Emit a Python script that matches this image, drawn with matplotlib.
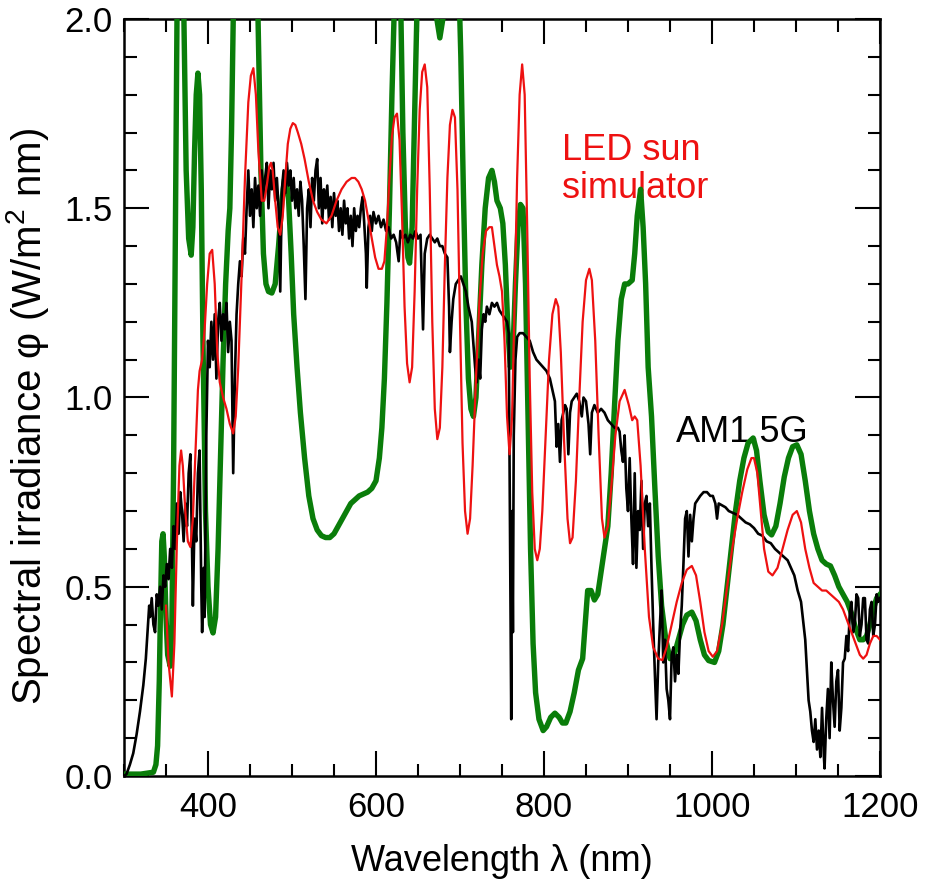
import matplotlib
matplotlib.use("Agg")
import matplotlib.pyplot as plt
from matplotlib.ticker import MultipleLocator, FormatStrFormatter

plt.rcParams["font.family"] = ["Liberation Sans", "DejaVu Sans"]
plt.rcParams["mathtext.fontset"] = "custom"
plt.rcParams["mathtext.rm"] = "Liberation Sans"
plt.rcParams["mathtext.it"] = "Liberation Sans:italic"

# AM1.5G reference solar spectrum (W/m^2 nm)
am15g_wl = [300, 303, 307, 311, 315, 319, 323, 326, 328, 330, 331, 333, 335, 337, 339, 341, 343, 345,
            347, 349, 351, 353, 355, 357, 359, 361, 363, 365, 367, 369, 371, 373, 375, 377, 379, 381,
            382, 384, 386, 388, 390, 392, 393, 395, 396, 398, 400, 402, 404, 406, 408, 410, 412, 414,
            416, 418, 420, 422, 424, 426, 428, 430, 432, 434, 436, 438, 440, 442, 444, 446, 448, 450,
            452, 454, 456, 458, 460, 462, 464, 466, 468, 470, 472, 474, 476, 478, 480, 482, 484, 486,
            488, 490, 492, 494, 496, 498, 500, 502, 504, 506, 508, 510, 512, 514, 516, 518, 520, 522,
            524, 526, 528, 530, 532, 534, 536, 538, 540, 542, 544, 546, 548, 550, 552, 554, 556, 558,
            560, 562, 564, 566, 568, 570, 572, 574, 576, 578, 580, 582, 584, 586, 588, 589, 591, 593,
            595, 597, 600, 603, 606, 609, 612, 615, 618, 621, 624, 627, 629, 632, 635, 638, 641, 644,
            647, 650, 653, 656, 658, 661, 664, 667, 670, 673, 676, 679, 682, 685, 687, 688, 690, 692,
            695, 698, 701, 704, 707, 710, 712, 714, 716, 718, 720, 722, 724, 726, 728, 730, 732, 735,
            738, 741, 744, 747, 750, 753, 756, 758, 760, 761, 762, 763, 764, 766, 768, 771, 775, 779,
            783, 787, 791, 795, 799, 803, 807, 810, 813, 815, 817, 819, 821, 823, 825, 827, 829, 831,
            833, 836, 839, 842, 845, 847, 850, 853, 855, 857, 860, 864, 868, 872, 876, 880, 884, 888,
            890, 892, 894, 896, 898, 900, 902, 904, 906, 908, 910, 912, 914, 916, 918, 920, 922, 924,
            926, 928, 930, 932, 934, 936, 938, 940, 942, 944, 946, 948, 950, 952, 954, 956, 958, 960,
            962, 964, 966, 968, 970, 972, 974, 976, 978, 980, 983, 986, 990, 994, 998, 1001, 1004,
            1006, 1008, 1012, 1016, 1020, 1025, 1030, 1035, 1040, 1045, 1050, 1055, 1060, 1065, 1070,
            1075, 1080, 1085, 1090, 1094, 1098, 1102, 1106, 1109, 1111, 1113, 1115, 1117, 1119, 1121,
            1123, 1125, 1127, 1129, 1131, 1133, 1134, 1136, 1138, 1140, 1142, 1144, 1146, 1148, 1150,
            1152, 1154, 1156, 1158, 1160, 1162, 1164, 1166, 1168, 1170, 1172, 1174, 1176, 1178, 1180,
            1182, 1184, 1186, 1188, 1190, 1192, 1194, 1196, 1198, 1200]
am15g_irr = [0.00, 0.005, 0.03, 0.06, 0.11, 0.17, 0.24, 0.31, 0.38, 0.45, 0.42, 0.47, 0.40, 0.38, 0.48,
             0.45, 0.50, 0.44, 0.53, 0.50, 0.56, 0.52, 0.60, 0.55, 0.66, 0.60, 0.72, 0.64, 0.75, 0.70,
             0.62, 0.72, 0.66, 0.80, 0.85, 0.60, 0.45, 0.68, 0.62, 0.80, 0.86, 0.50, 0.38, 0.55, 0.42,
             0.90, 1.15, 1.08, 1.20, 1.10, 1.22, 1.05, 1.20, 1.25, 1.15, 1.22, 1.18, 1.25, 1.12, 1.20,
             1.15, 0.80, 1.05, 1.22, 1.30, 1.36, 1.32, 1.42, 1.38, 1.50, 1.60, 1.48, 1.55, 1.45, 1.58,
             1.50, 1.56, 1.48, 1.60, 1.52, 1.58, 1.62, 1.50, 1.60, 1.55, 1.62, 1.52, 1.58, 1.50, 1.28,
             1.55, 1.60, 1.54, 1.62, 1.56, 1.60, 1.52, 1.58, 1.50, 1.55, 1.48, 1.57, 1.52, 1.40, 1.26,
             1.50, 1.55, 1.45, 1.58, 1.52, 1.60, 1.63, 1.50, 1.58, 1.46, 1.55, 1.50, 1.56, 1.47, 1.53,
             1.45, 1.54, 1.48, 1.52, 1.44, 1.50, 1.43, 1.52, 1.46, 1.50, 1.42, 1.48, 1.40, 1.50, 1.44,
             1.48, 1.45, 1.50, 1.53, 1.46, 1.38, 1.29, 1.45, 1.48, 1.44, 1.49, 1.46, 1.48, 1.45, 1.47,
             1.44, 1.45, 1.42, 1.43, 1.41, 1.36, 1.44, 1.42, 1.43, 1.41, 1.43, 1.42, 1.44, 1.42, 1.43,
             1.18, 1.38, 1.42, 1.43, 1.42, 1.41, 1.42, 1.40, 1.40, 1.38, 1.37, 1.24, 1.12, 1.20, 1.26,
             1.30, 1.31, 1.32, 1.30, 1.28, 1.24, 1.22, 1.20, 1.14, 1.08, 1.04, 1.10, 1.05, 1.18, 1.22,
             1.20, 1.24, 1.22, 1.25, 1.24, 1.25, 1.23, 1.22, 1.21, 1.20, 1.17, 0.50, 0.15, 0.70, 0.38,
             0.90, 1.10, 1.16, 1.17, 1.17, 1.16, 1.15, 1.12, 1.10, 1.09, 1.08, 1.07, 1.05, 1.02, 0.99,
             0.87, 0.93, 0.83, 0.94, 0.96, 0.98, 0.97, 0.85, 0.96, 0.99, 1.00, 1.01, 0.99, 0.95, 1.00,
             0.99, 0.93, 0.85, 0.96, 0.98, 0.96, 0.97, 0.96, 0.94, 0.93, 0.92, 0.92, 0.91, 0.86, 0.83,
             0.90, 0.76, 0.70, 0.84, 0.68, 0.56, 0.80, 0.55, 0.70, 0.65, 0.78, 0.60, 0.72, 0.74, 0.66,
             0.72, 0.55, 0.40, 0.27, 0.15, 0.30, 0.40, 0.49, 0.30, 0.36, 0.23, 0.20, 0.15, 0.32, 0.34,
             0.25, 0.32, 0.27, 0.38, 0.45, 0.56, 0.68, 0.70, 0.58, 0.69, 0.62, 0.68, 0.72, 0.73, 0.74,
             0.75, 0.75, 0.74, 0.74, 0.72, 0.68, 0.72, 0.715, 0.71, 0.70, 0.695, 0.69, 0.68, 0.67,
             0.665, 0.655, 0.64, 0.635, 0.62, 0.615, 0.60, 0.59, 0.58, 0.57, 0.55, 0.53, 0.49, 0.46,
             0.40, 0.36, 0.28, 0.20, 0.17, 0.12, 0.09, 0.15, 0.07, 0.12, 0.05, 0.18, 0.06, 0.02, 0.15,
             0.23, 0.10, 0.30, 0.20, 0.13, 0.25, 0.28, 0.12, 0.18, 0.30, 0.31, 0.37, 0.33, 0.43, 0.46,
             0.38, 0.40, 0.48, 0.47, 0.37, 0.40, 0.47, 0.47, 0.36, 0.35, 0.44, 0.46, 0.37, 0.40, 0.48,
             0.46, 0.47]

# LED sun simulator spectrum
led_wl = [350, 353, 357, 360, 363, 366, 368, 370, 373, 376, 379, 382, 385, 388, 390, 393, 396, 399,
          402, 405, 408, 411, 414, 418, 422, 426, 430, 433, 436, 440, 444, 448, 451, 454, 457, 460,
          464, 467, 470, 473, 475, 477, 480, 483, 486, 489, 492, 495, 498, 501, 504, 507, 511, 515,
          520, 525, 530, 535, 541, 547, 553, 559, 565, 571, 575, 579, 583, 587, 591, 595, 599, 603,
          607, 610, 613, 616, 619, 622, 625, 628, 631, 634, 637, 640, 643, 646, 649, 652, 655, 658,
          661, 664, 667, 670, 673, 676, 679, 682, 685, 688, 691, 694, 697, 700, 703, 706, 709, 712,
          715, 719, 723, 727, 731, 735, 738, 741, 744, 747, 750, 753, 756, 759, 762, 765, 768, 771,
          774, 777, 780, 783, 786, 789, 792, 795, 798, 802, 806, 810, 814, 817, 820, 824, 828, 831,
          834, 838, 842, 846, 850, 854, 857, 861, 865, 869, 872, 876, 880, 885, 890, 896, 901, 905,
          908, 911, 915, 920, 925, 930, 936, 941, 946, 952, 958, 964, 970, 976, 981, 986, 991, 996,
          1001, 1006, 1012, 1018, 1024, 1030, 1036, 1042, 1047, 1050, 1054, 1058, 1062, 1067, 1072,
          1078, 1084, 1090, 1096, 1101, 1106, 1111, 1116, 1121, 1126, 1131, 1136, 1141, 1146, 1151,
          1156, 1161, 1166, 1171, 1176, 1180, 1184, 1188, 1192, 1196, 1200]
led_irr = [0.45, 0.30, 0.21, 0.35, 0.62, 0.82, 0.86, 0.82, 0.70, 0.62, 0.605, 0.68, 0.85, 1.02, 1.07,
           1.10, 1.18, 1.30, 1.38, 1.39, 1.30, 1.12, 1.04, 1.00, 0.97, 0.93, 0.905, 0.95, 1.08, 1.32,
           1.58, 1.78, 1.85, 1.87, 1.80, 1.65, 1.52, 1.52, 1.56, 1.61, 1.62, 1.60, 1.52, 1.45, 1.43,
           1.48, 1.58, 1.67, 1.71, 1.725, 1.72, 1.70, 1.67, 1.63, 1.57, 1.52, 1.49, 1.47, 1.46, 1.48,
           1.52, 1.55, 1.57, 1.58, 1.58, 1.57, 1.55, 1.52, 1.47, 1.42, 1.37, 1.34, 1.34, 1.36, 1.45,
           1.58, 1.69, 1.74, 1.75, 1.68, 1.48, 1.24, 1.09, 1.04, 1.08, 1.28, 1.55, 1.76, 1.86, 1.88,
           1.82, 1.55, 1.20, 0.97, 0.89, 0.92, 1.08, 1.35, 1.58, 1.72, 1.76, 1.74, 1.55, 1.20, 0.88,
           0.70, 0.64, 0.68, 0.82, 1.05, 1.25, 1.38, 1.44, 1.45, 1.45, 1.40, 1.35, 1.32, 1.28, 1.15,
           0.95, 0.85, 0.95, 1.25, 1.58, 1.80, 1.88, 1.80, 1.45, 1.05, 0.75, 0.60, 0.57, 0.60, 0.70,
           0.90, 1.10, 1.22, 1.26, 1.24, 1.12, 0.88, 0.68, 0.615, 0.63, 0.78, 1.00, 1.20, 1.31, 1.34,
           1.31, 1.15, 0.90, 0.68, 0.63, 0.66, 0.76, 0.90, 0.99, 1.02, 0.98, 0.94, 0.95, 0.94, 0.82,
           0.60, 0.42, 0.34, 0.31, 0.306, 0.34, 0.40, 0.46, 0.51, 0.545, 0.555, 0.53, 0.46, 0.38, 0.33,
           0.315, 0.33, 0.40, 0.50, 0.60, 0.68, 0.75, 0.81, 0.84, 0.84, 0.80, 0.70, 0.60, 0.54, 0.53,
           0.55, 0.60, 0.65, 0.69, 0.70, 0.67, 0.60, 0.55, 0.51, 0.50, 0.49, 0.49, 0.48, 0.47, 0.46,
           0.44, 0.41, 0.38, 0.35, 0.32, 0.31, 0.32, 0.35, 0.37, 0.37, 0.36]

# Second (lamp-based) simulator spectrum; peaks above 2.0 run off the top of the axes
lamp_wl = [300, 320, 335, 338, 340, 342, 343.5, 345, 346.5, 348, 350, 352, 355, 357, 359, 361, 363,
           365, 368, 370, 372, 374, 377, 380, 382, 384, 386, 388, 390, 392, 394, 397, 400, 403, 406,
           409, 412, 415, 418, 421, 424, 426, 428, 430, 433, 437, 445, 452, 457, 460, 463, 466, 469,
           472, 476, 480, 484, 488, 491, 493, 496, 499, 502, 506, 510, 515, 520, 525, 530, 535, 540,
           545, 550, 555, 560, 565, 570, 575, 580, 585, 590, 595, 600, 604, 607, 610, 613, 616, 619,
           622, 626, 629, 632, 635, 638, 640, 643, 646, 649, 654, 660, 666, 671, 676, 681, 686, 692,
           698, 701, 704, 707, 710, 713, 716, 719, 722, 726, 730, 734, 738, 741, 744, 748, 751, 754,
           757, 760, 763, 766, 769, 772, 775, 778, 781, 784, 787, 790, 794, 799, 803, 808, 813, 818,
           822, 826, 831, 836, 841, 846, 849, 852, 856, 860, 864, 868, 872, 876, 880, 884, 888, 892,
           896, 900, 905, 908, 911, 915, 918, 921, 924, 928, 932, 936, 940, 945, 950, 955, 960, 965,
           970, 976, 981, 986, 991, 996, 1003, 1008, 1013, 1018, 1023, 1028, 1033, 1038, 1043, 1049,
           1053, 1057, 1062, 1067, 1071, 1076, 1081, 1086, 1091, 1096, 1101, 1106, 1111, 1116, 1121,
           1126, 1131, 1136, 1141, 1146, 1151, 1156, 1161, 1166, 1171, 1176, 1180, 1184, 1188, 1192,
           1196, 1200]
lamp_irr = [0.005, 0.005, 0.01, 0.03, 0.08, 0.25, 0.45, 0.62, 0.64, 0.58, 0.42, 0.32, 0.29, 0.40, 0.80,
            1.40, 2.00, 2.40, 2.50, 2.20, 1.90, 1.60, 1.42, 1.376, 1.45, 1.65, 1.80, 1.857, 1.80, 1.55,
            1.15, 0.70, 0.50, 0.40, 0.378, 0.42, 0.60, 0.85, 1.10, 1.30, 1.44, 1.50, 1.70, 2.00, 2.40,
            2.70, 2.90, 2.70, 2.30, 1.95, 1.60, 1.38, 1.30, 1.28, 1.276, 1.30, 1.40, 1.52, 1.575, 1.58,
            1.52, 1.38, 1.22, 1.08, 0.96, 0.84, 0.74, 0.68, 0.65, 0.635, 0.63, 0.63, 0.64, 0.66, 0.68,
            0.70, 0.72, 0.73, 0.74, 0.745, 0.75, 0.76, 0.78, 0.84, 0.92, 1.05, 1.25, 1.50, 1.80, 2.05,
            2.30, 2.10, 1.70, 1.45, 1.37, 1.355, 1.45, 1.75, 2.05, 2.30, 2.35, 2.20, 2.02, 1.95, 2.02,
            2.20, 2.30, 2.15, 1.90, 1.55, 1.25, 1.05, 0.97, 0.95, 1.00, 1.15, 1.35, 1.50, 1.58, 1.60,
            1.57, 1.52, 1.50, 1.46, 1.35, 1.18, 1.08, 1.12, 1.30, 1.45, 1.51, 1.50, 1.30, 0.95, 0.60,
            0.35, 0.22, 0.15, 0.12, 0.13, 0.155, 0.166, 0.155, 0.14, 0.14, 0.17, 0.22, 0.28, 0.31, 0.40,
            0.49, 0.49, 0.465, 0.48, 0.54, 0.60, 0.66, 0.80, 0.98, 1.15, 1.26, 1.30, 1.30, 1.31, 1.38,
            1.48, 1.55, 1.45, 1.30, 1.08, 0.95, 0.76, 0.58, 0.45, 0.36, 0.31, 0.32, 0.36, 0.40, 0.425,
            0.433, 0.41, 0.36, 0.32, 0.305, 0.30, 0.33, 0.40, 0.50, 0.60, 0.70, 0.78, 0.84, 0.88, 0.893,
            0.86, 0.78, 0.69, 0.645, 0.637, 0.66, 0.72, 0.79, 0.84, 0.87, 0.875, 0.85, 0.78, 0.70, 0.64,
            0.60, 0.57, 0.56, 0.555, 0.53, 0.50, 0.48, 0.46, 0.43, 0.39, 0.36, 0.36, 0.37, 0.40, 0.44,
            0.47, 0.48]

x_ticks = [400, 600, 800, 1000, 1200]
y_ticks = [0.0, 0.5, 1.0, 1.5, 2.0]

fig = plt.figure(figsize=(9.25, 8.91), dpi=100)
ax = fig.add_axes([0.13405, 0.12907, 0.81730, 0.84961])

ax.plot(lamp_wl, lamp_irr, color="#0a7d0a", lw=3.9, zorder=3, solid_joinstyle="round")
ax.plot(am15g_wl, am15g_irr, color="black", lw=1.9, zorder=4)
ax.plot(led_wl, led_irr, color="#ee1111", lw=1.6, zorder=5)

ax.text(822, 1.70, "LED sun\nsimulator", color="#ee1111", fontsize=26, va="top", ha="left",
        linespacing=1.13, zorder=2)
ax.text(957, 0.955, "AM1.5G", color="black", fontsize=26, va="top", ha="left", zorder=2)

ax.set_xlim(300, 1200)
ax.set_ylim(0, 2.0)
ax.set_xticks(x_ticks)
ax.set_yticks(y_ticks)
ax.xaxis.set_minor_locator(MultipleLocator(50))
ax.yaxis.set_minor_locator(MultipleLocator(0.1))
ax.yaxis.set_major_formatter(FormatStrFormatter("%.1f"))

ax.tick_params(which="both", direction="in", top=True, right=True, width=1.5, labelsize=25)
ax.tick_params(which="major", length=18)
ax.tick_params(which="minor", length=9)
ax.tick_params(axis="x", which="major", pad=11)
ax.tick_params(axis="y", which="major", pad=8)
for sp in ax.spines.values():
    sp.set_linewidth(1.8)

ax.set_xlabel("Wavelength λ (nm)", fontsize=26, labelpad=14)
ax.set_ylabel("Spectral irradiance φ (W/m$^2$ nm)", fontsize=29)
ax.yaxis.set_label_coords(-0.097, 0.475)

fig.savefig("out.png", dpi=100)
